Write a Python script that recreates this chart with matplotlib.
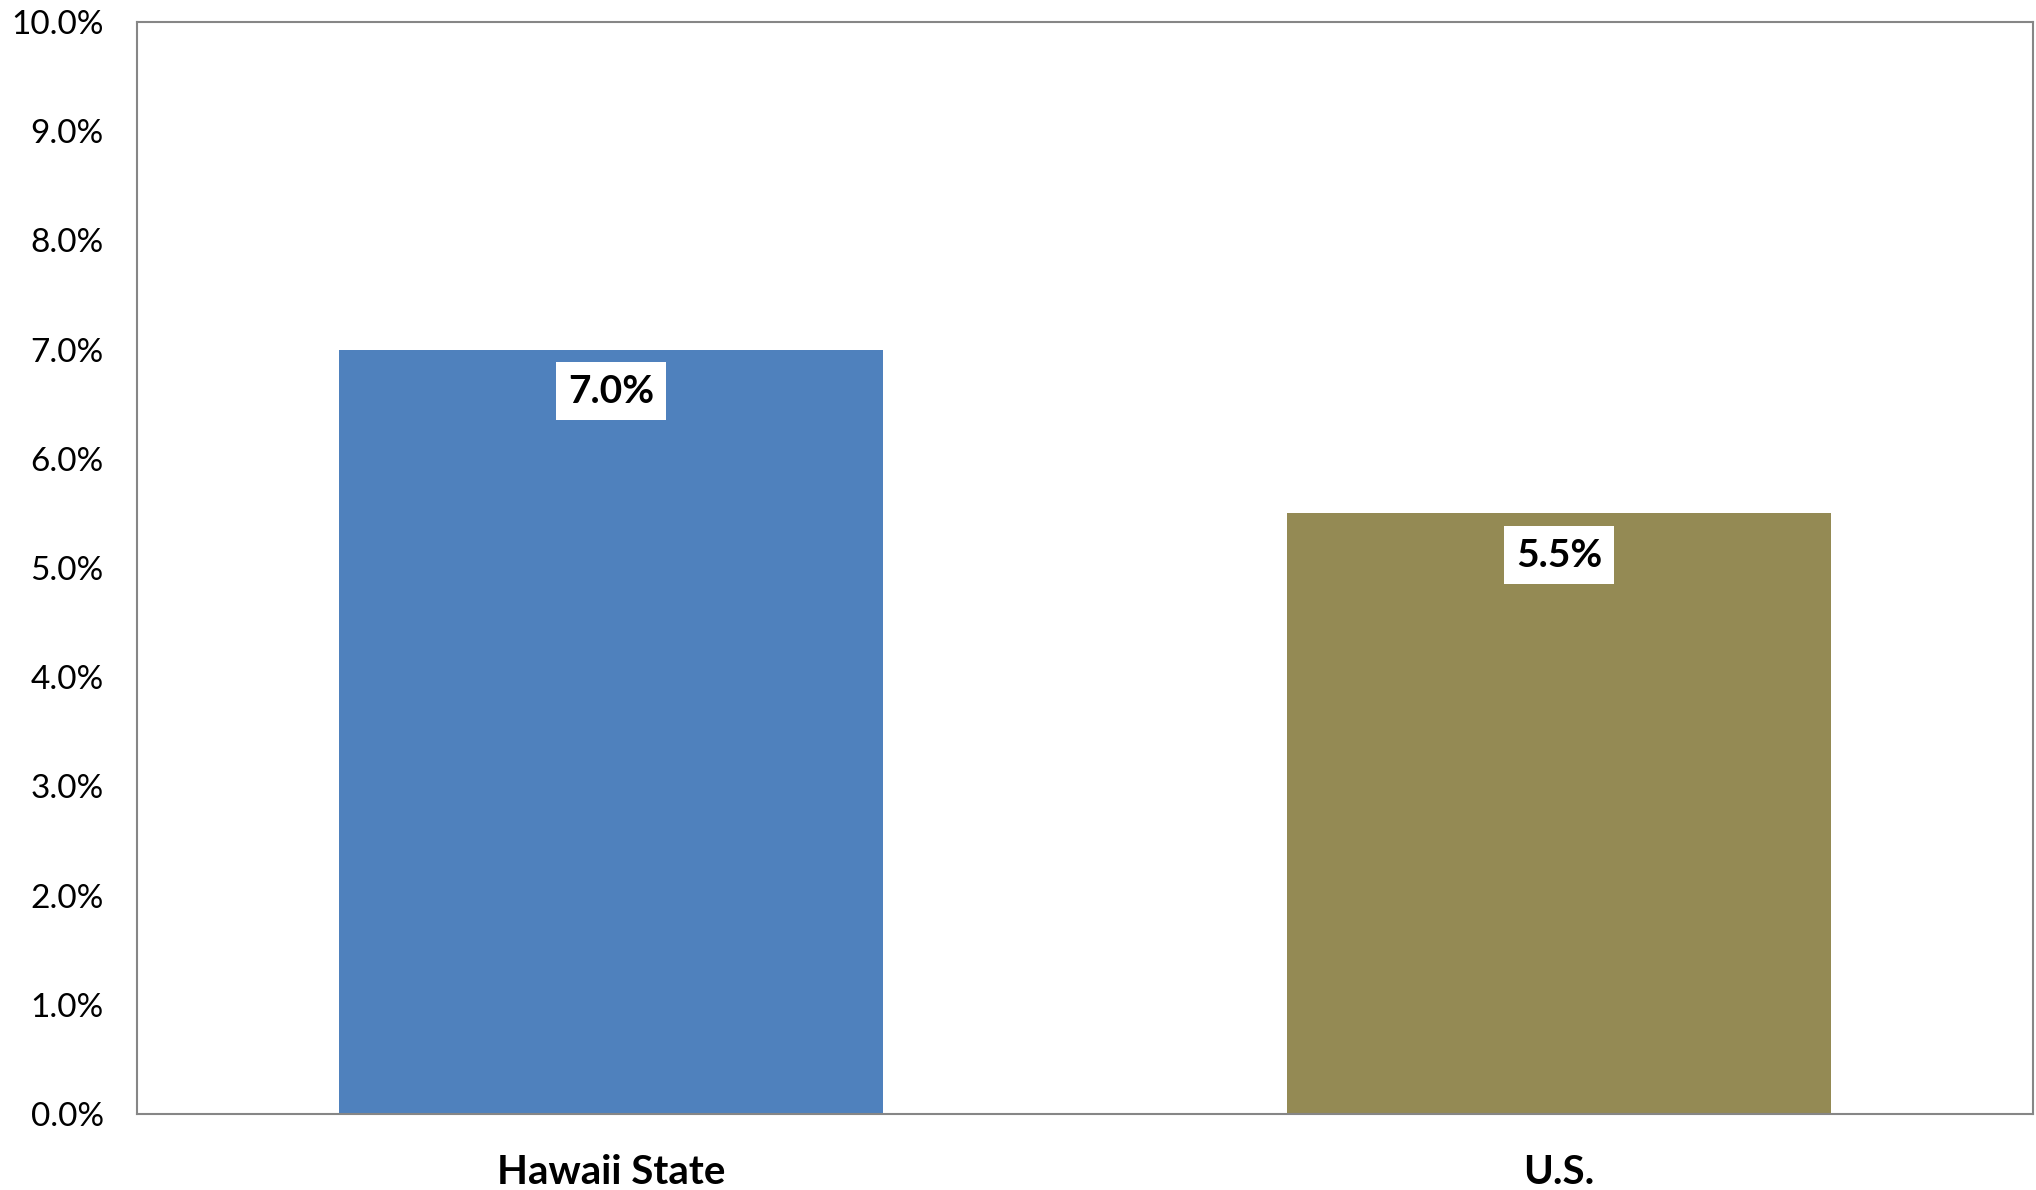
import matplotlib.pyplot as plt
from matplotlib.ticker import FuncFormatter

# 資料
categories = ['Hawaii State', 'U.S.']
values = [0.070, 0.055]
bar_colors = ['#4F81BD', '#948A54']

plt.rcParams['font.family'] = ['Lato', 'DejaVu Sans']

fig = plt.figure(figsize=(20.36, 11.9), dpi=100)
ax = fig.add_axes([137 / 2036, 1 - 1114 / 1190, (2033 - 137) / 2036, (1114 - 22) / 1190])

x = range(len(categories))
bars = ax.bar(x, values, width=0.573, color=bar_colors, zorder=2)

# 數值標籤 (白底框)
for b, v in zip(bars, values):
    ax.annotate(f'{v * 100:.1f}%', (b.get_x() + b.get_width() / 2, v),
                xytext=(0, -30), textcoords='offset points',
                ha='center', va='center', fontsize=28, fontweight='bold',
                bbox=dict(boxstyle='square,pad=0.3', fc='white', ec='none'),
                zorder=3)

ax.set_xlim(-0.5, 1.5)
ax.set_ylim(0, 0.10)
ax.set_yticks([i / 100 for i in range(11)])
ax.yaxis.set_major_formatter(FuncFormatter(lambda y, _: f'{y * 100:.1f}%'))
ax.set_xticks(list(x))
ax.set_xticklabels(categories, fontsize=29, fontweight='bold')
ax.tick_params(axis='y', length=0, labelsize=24, pad=24)
ax.tick_params(axis='x', length=0, pad=29)

for s in ax.spines.values():
    s.set_color('#868686')
    s.set_linewidth(1.5)

plt.savefig('out.png', dpi=100)
